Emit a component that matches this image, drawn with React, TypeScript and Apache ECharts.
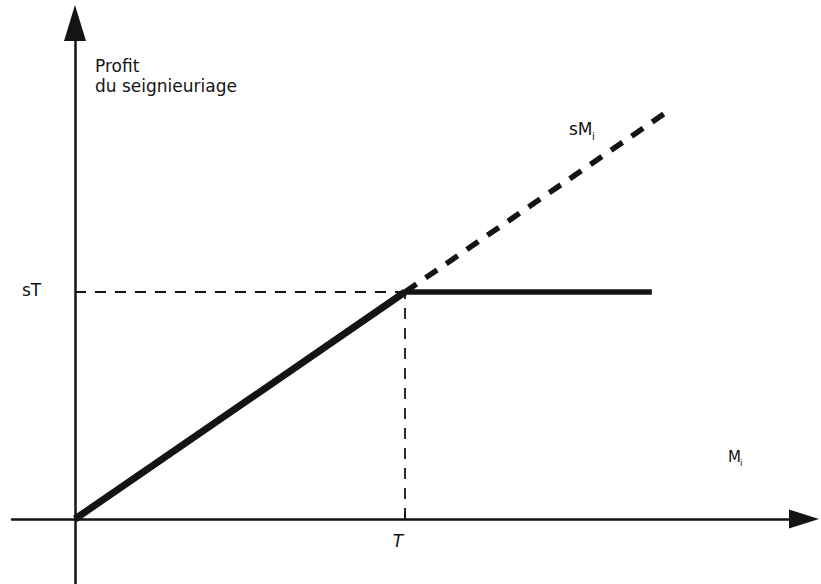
import React, { useEffect, useRef } from "react";
import * as echarts from "echarts";

// Abstract units: T = 10 on the M_i axis, sT = 10 on the profit axis.
const T_VALUE = 10;
const ST_VALUE = 10;
const seigniorageRising = [[0, 0], [T_VALUE, ST_VALUE]];
const seigniorageCapped = [[T_VALUE, ST_VALUE], [17.48, ST_VALUE]];
const sMiExtension = [[T_VALUE, ST_VALUE], [18.1, 18.1]];
const sTGuide = [[0, ST_VALUE], [T_VALUE, ST_VALUE]];
const TGuide = [[T_VALUE, 0], [T_VALUE, ST_VALUE]];
const sTTick = [[0, ST_VALUE], [0.24, ST_VALUE]];
const TTick = [[T_VALUE, 0], [T_VALUE, 0.3]];

const INK = "#141414";
const FONT = "DejaVu Sans, Liberation Sans, sans-serif";

export default function App() {
  const ref = useRef<HTMLDivElement>(null);
  useEffect(() => {
    if (!ref.current) return;
    const chart = echarts.init(ref.current, undefined, { renderer: "svg" });
    const line = (data: number[][], width: number, type: any, z = 2) => ({
      type: "line",
      data,
      symbol: "none",
      silent: true,
      z,
      lineStyle: { color: INK, width, type, cap: "butt" },
    });
    chart.setOption({
      animation: false,
      backgroundColor: "#ffffff",
      grid: { left: 12, right: 17, top: 23, bottom: 0 },
      xAxis: {
        type: "value",
        min: -1.909,
        max: 22.09,
        splitLine: { show: false },
        axisTick: { show: false },
        axisLabel: { show: false },
        axisLine: {
          show: true,
          onZero: true,
          symbol: ["none", "triangle"],
          symbolSize: [19, 30],
          lineStyle: { color: INK, width: 2.5 },
        },
      },
      yAxis: {
        type: "value",
        min: -2.863,
        max: 21.85,
        splitLine: { show: false },
        axisTick: { show: false },
        axisLabel: { show: false },
        axisLine: {
          show: true,
          onZero: true,
          symbol: ["none", "triangle"],
          symbolSize: [22, 36],
          lineStyle: { color: INK, width: 2.5 },
        },
      },
      series: [
        line(sTGuide, 1.8, [11, 9], 1),
        line(TGuide, 1.8, [11, 9], 1),
        line(sTTick, 2, "solid", 1),
        line(TTick, 2, "solid", 1),
        line(sMiExtension, 5.5, [14, 11], 2),
        line(seigniorageCapped, 5.5, "solid", 3),
        line(seigniorageRising, 7, "solid", 4),
      ],
      graphic: [
        { type: "text", x: 95, y: 66, style: { text: "Profit", fill: INK, font: `17px ${FONT}`, verticalAlign: "middle" } },
        { type: "text", x: 95, y: 86, style: { text: "du seignieuriage", fill: INK, font: `17px ${FONT}`, verticalAlign: "middle" } },
        { type: "text", x: 569, y: 129, style: { text: "sM", fill: INK, font: `17px ${FONT}`, verticalAlign: "middle" } },
        { type: "text", x: 592, y: 136, style: { text: "i", fill: INK, font: `10px ${FONT}`, verticalAlign: "middle" } },
        { type: "text", x: 22, y: 290, style: { text: "sT", fill: INK, font: `17px ${FONT}`, verticalAlign: "middle" } },
        { type: "text", x: 398, y: 541, style: { text: "T", fill: INK, font: `italic 17px ${FONT}`, align: "center", verticalAlign: "middle" } },
        { type: "text", x: 728, y: 457, style: { text: "M", fill: INK, font: `15px ${FONT}`, verticalAlign: "middle" } },
        { type: "text", x: 740, y: 463, style: { text: "i", fill: INK, font: `9px ${FONT}`, verticalAlign: "middle" } },
      ],
    });
    return () => chart.dispose();
  }, []);
  return (
    <div
      ref={ref}
      style={{ position: "fixed", left: 0, top: 0, width: 821, height: 584, background: "#fff" }}
    />
  );
}
